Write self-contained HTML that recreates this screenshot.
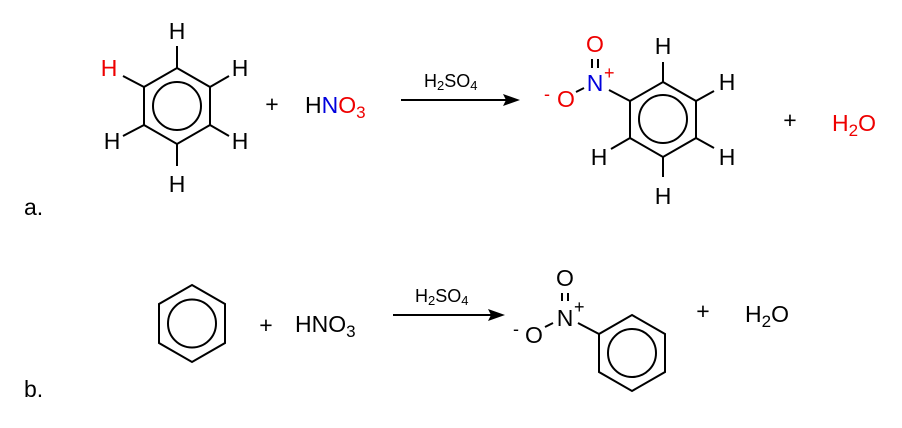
<!DOCTYPE html>
<html><head><style>body{margin:0;background:#fff}svg{display:block}text{font-family:"Liberation Sans",Arial,sans-serif}</style></head><body>
<svg width="902" height="428" viewBox="0 0 902 428" xmlns="http://www.w3.org/2000/svg">
<g stroke="#000" stroke-width="2" fill="none">
<polygon points="177,68 210,87 210,125 177,144 144,125 144,87"/>
<circle cx="177" cy="106" r="24"/>
<line x1="177" y1="68" x2="177" y2="46"/>
<line x1="144" y1="87" x2="123" y2="76"/>
<line x1="210" y1="87" x2="229" y2="76"/>
<line x1="144" y1="125" x2="123" y2="136"/>
<line x1="210" y1="125" x2="229" y2="136"/>
<line x1="177" y1="144" x2="177" y2="166"/>
<line x1="401" y1="100" x2="508" y2="100"/>
<polygon points="663,82 696,101 696,138 663,157 630,138 630,101"/>
<circle cx="663" cy="119" r="24"/>
<line x1="663" y1="82" x2="663" y2="62"/>
<line x1="696" y1="101" x2="714" y2="91"/>
<line x1="696" y1="138" x2="714" y2="148"/>
<line x1="663" y1="157" x2="663" y2="177"/>
<line x1="630" y1="138" x2="611" y2="149"/>
<line x1="630" y1="101" x2="609" y2="90"/>
<line x1="592" y1="59" x2="592" y2="68"/><line x1="598" y1="59" x2="598" y2="68"/>
<line x1="584" y1="88" x2="576" y2="92"/>
<polygon points="192,285 225,304 225,343 192,362 159,343 159,304"/>
<circle cx="192" cy="323.5" r="24"/>
<line x1="393" y1="315" x2="493" y2="315"/>
<polygon points="632,315 665,334 665,372 632,391 599,372 599,334"/>
<circle cx="632" cy="353" r="24"/>
<line x1="599" y1="334" x2="578" y2="323"/>
<line x1="562" y1="293" x2="562" y2="301"/><line x1="568" y1="293" x2="568" y2="301"/>
<line x1="553" y1="323" x2="545" y2="327"/>
</g>
<polygon points="520,100 503,94 506,100 503,106" fill="#000"/>
<polygon points="505,315 488,309 491,315 488,321" fill="#000"/>
<g font-size="23" text-anchor="middle">
<text x="177" y="39">H</text>
<text x="109" y="76" fill="#e00">H</text>
<text x="240" y="76">H</text>
<text x="112" y="149">H</text>
<text x="240" y="149">H</text>
<text x="177" y="192">H</text>
<text x="272" y="112">+</text>
<text x="663" y="54">H</text>
<text x="727" y="90">H</text>
<text x="727" y="165">H</text>
<text x="599" y="165">H</text>
<text x="663" y="204">H</text>
<text x="595" y="52" fill="#e00">O</text>
<text x="595" y="91" fill="#00d">N</text>
<text x="566" y="107" fill="#e00">O</text>
<text x="790" y="128">+</text>
<text x="266" y="333">+</text>
<text x="703" y="319">+</text>
<text x="565" y="286">O</text>
<text x="565" y="326">N</text>
<text x="534" y="343">O</text>
</g>
<g font-size="23">
<text x="305" y="113">H<tspan fill="#00d">N</tspan><tspan fill="#e00">O<tspan font-size="17" dy="5">3</tspan></tspan></text>
<text x="832" y="131" fill="#e00">H<tspan font-size="17" dy="5">2</tspan><tspan dy="-5">O</tspan></text>
<text x="295" y="332">HNO<tspan font-size="17" dy="5">3</tspan></text>
<text x="745" y="322">H<tspan font-size="17" dy="5">2</tspan><tspan dy="-5">O</tspan></text>
<text x="24" y="215">a.</text>
<text x="24" y="397">b.</text>
</g>
<g font-size="18">
<text x="424" y="87">H<tspan font-size="13" dy="3">2</tspan><tspan dy="-3">SO</tspan><tspan font-size="13" dy="3">4</tspan></text>
<text x="415" y="302">H<tspan font-size="13" dy="3">2</tspan><tspan dy="-3">SO</tspan><tspan font-size="13" dy="3">4</tspan></text>
</g>
<g font-size="18">
<text x="604" y="79" fill="#e00">+</text>
<text x="544" y="100" fill="#e00">-</text>
<text x="574" y="313">+</text>
<text x="513" y="335">-</text>
</g>
</svg>
</body></html>
